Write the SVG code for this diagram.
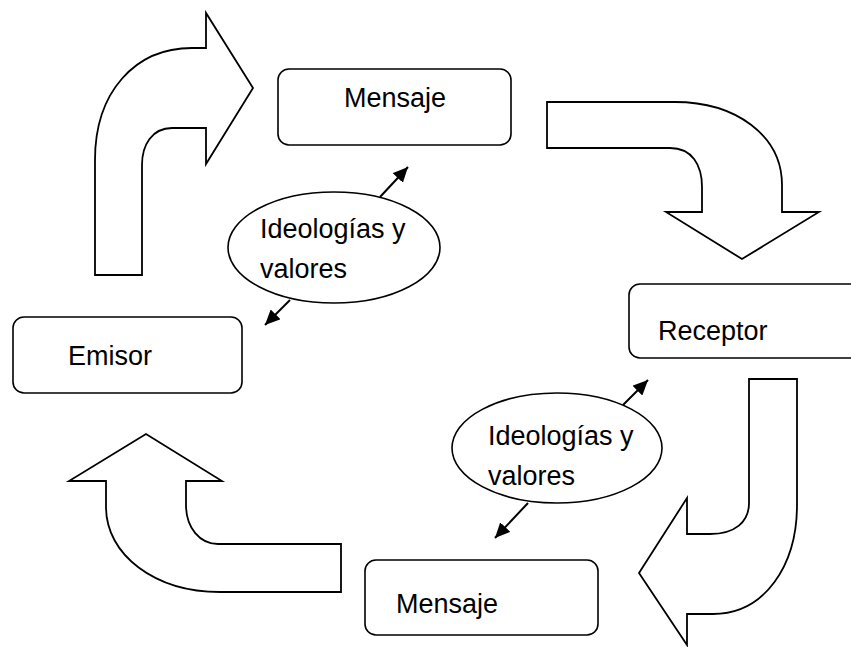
<svg xmlns="http://www.w3.org/2000/svg" width="851" height="647" viewBox="0 0 851 647">
<style>
.blk{fill:#fff;stroke:#000;stroke-width:1.8;stroke-linejoin:miter}
.box{fill:#fff;stroke:#000;stroke-width:1.6}
.lbl{font-family:"Liberation Sans",Arial,sans-serif;font-size:27px;fill:#000}
.con{stroke:#000;stroke-width:2;fill:none}
</style>
<defs>
<marker id="ah" markerUnits="userSpaceOnUse" markerWidth="16" markerHeight="14" refX="15" refY="7" orient="auto">
<path d="M0,0 L15,7 L0,14 Z" fill="#000"/>
</marker>
</defs>
<rect width="851" height="647" fill="#fff"/>
<g id="flow-arrows">
<path id="arrow-emisor-mensaje" class="blk" d="M95,275 L95,160 C95,92 135,48 192,48 L206,48 L206,13 L253,88 L206,164 L206,128 L172,128 C152,128 142,145 142,165 L142,275 Z"/>
<path id="arrow-mensaje-receptor" class="blk" d="M547,102 L675,102 C735,102 782,135 782,185 L782,212 L819,212 L742,259 L666,212 L702,212 L702,187 C702,165 692,148 670,148 L547,148 Z"/>
<path id="arrow-receptor-mensaje" class="blk" d="M749,379 L797,379 L797,505 C797,565 765,614 713,614 L687,614 L687,645 L639,573 L687,498 L687,534 L710,534 C735,534 749,522 749,503 Z"/>
<path id="arrow-mensaje-emisor" class="blk" d="M341,544 L218,544 C200,544 186,528 186,505 L186,481 L222,481 L146,434 L69,481 L106,481 L106,507 C106,555 155,592 220,592 L341,592 Z"/>
</g>
<g id="node-mensaje-top">
<rect class="box" x="278" y="69" width="233" height="76" rx="11"/>
<text class="lbl" x="344" y="107">Mensaje</text>
</g>
<g id="node-emisor">
<rect class="box" x="13" y="317" width="229" height="76" rx="11"/>
<text class="lbl" x="68" y="365">Emisor</text>
</g>
<g id="node-receptor">
<rect class="box" x="629" y="284" width="240" height="74" rx="11"/>
<text class="lbl" x="658" y="340">Receptor</text>
</g>
<g id="node-mensaje-bottom">
<rect class="box" x="365" y="560" width="233" height="75" rx="11"/>
<text class="lbl" x="396" y="613">Mensaje</text>
</g>
<g id="node-ideologias-1">
<ellipse class="box" cx="334" cy="247.5" rx="106" ry="55.5"/>
<text class="lbl" x="260" y="238">Ideologías y</text>
<text class="lbl" x="260" y="278">valores</text>
</g>
<g id="node-ideologias-2">
<ellipse class="box" cx="557" cy="448" rx="105" ry="55"/>
<text class="lbl" x="488" y="445">Ideologías y</text>
<text class="lbl" x="488" y="485">valores</text>
</g>
<g id="connectors">
<line class="con" x1="380" y1="197" x2="408" y2="167" marker-end="url(#ah)"/>
<line class="con" x1="290" y1="300" x2="265" y2="325" marker-end="url(#ah)"/>
<line class="con" x1="623" y1="405" x2="648" y2="380" marker-end="url(#ah)"/>
<line class="con" x1="528" y1="503" x2="495" y2="538" marker-end="url(#ah)"/>
</g>
</svg>
